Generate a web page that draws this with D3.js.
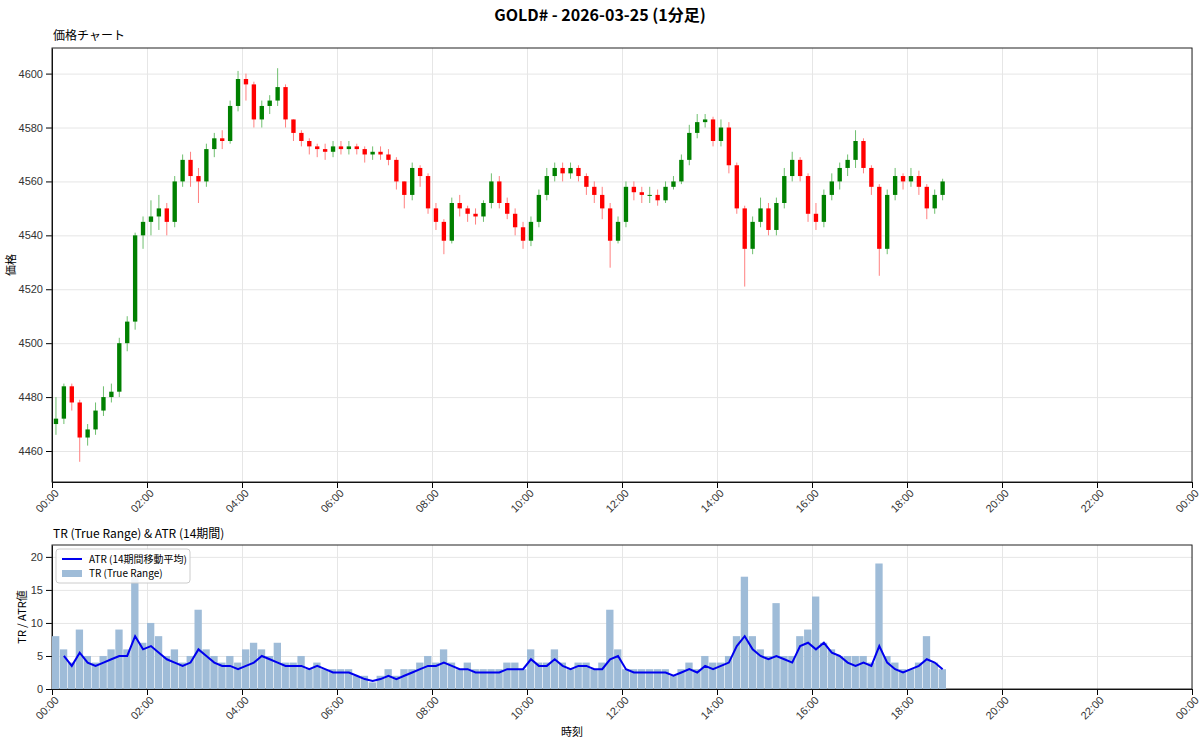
<!DOCTYPE html>
<html><head><meta charset="utf-8">
<script src="https://cdn.jsdelivr.net/npm/d3@7"></script>
<style>
body { margin: 0; background: #fff; font-family: "Noto Sans CJK JP", "DejaVu Sans", sans-serif; }
.grid line { stroke: #e6e6e6; }
.grid path { display: none; }
.axis text { font-size: 11px; fill: #333; }
</style></head>
<body><svg id="chart" width="1200" height="744"></svg>
<script>
var closes = [4472,4484,4478,4465,4468,4475,4480,4482,4500,4508,4540,4545,4547,4550,4545,4560,4568,4562,4560,4572,
  4576,4575,4588,4598,4596,4583,4588,4590,4595,4583,4578,4575,4573,4572,4571,4573,4572,4573,4572,4570,
  4571,4570,4568,4560,4555,4565,4562,4550,4545,4538,4552,4550,4548,4547,4552,4560,4552,4548,4543,4538,
  4545,4555,4562,4565,4563,4565,4562,4558,4555,4550,4538,4545,4558,4556,4555,4555,4553,4558,4560,4568,
  4578,4582,4583,4575,4580,4566,4550,4535,4545,4550,4542,4552,4562,4568,4562,4548,4545,4555,4560,4565,
  4568,4575,4565,4558,4535,4555,4562,4560,4562,4558,4550,4555,4560];
var highs = [4480,4485,4485,4479,4470,4478,4484,4485,4502,4510,4541,4547,4553,4555,4552,4562,4570,4571,4565,4574,
  4578,4579,4590,4601,4600,4597,4590,4592,4602,4596,4583,4579,4576,4574,4574,4575,4575,4575,4574,4573,
  4573,4573,4572,4569,4560,4567,4566,4563,4552,4546,4554,4555,4551,4550,4553,4563,4562,4554,4550,4545,
  4547,4557,4565,4567,4567,4567,4566,4563,4560,4558,4552,4547,4560,4560,4558,4558,4557,4560,4562,4570,
  4581,4585,4585,4584,4583,4582,4567,4551,4547,4554,4552,4554,4565,4571,4569,4563,4552,4557,4563,4567,
  4570,4579,4576,4566,4559,4557,4565,4563,4565,4564,4559,4557,4561];
var lows = [4466,4470,4475,4456,4462,4466,4473,4478,4480,4497,4505,4535,4540,4542,4540,4543,4558,4558,4552,4558,
  4569,4572,4574,4586,4590,4580,4580,4585,4588,4580,4575,4573,4570,4569,4568,4569,4570,4570,4570,4567,
  4568,4568,4566,4557,4550,4553,4558,4548,4542,4533,4537,4547,4545,4544,4545,4550,4550,4546,4540,4535,
  4536,4543,4553,4560,4560,4561,4560,4555,4552,4546,4528,4537,4543,4553,4552,4552,4551,4552,4557,4559,
  4566,4576,4580,4573,4573,4563,4548,4521,4533,4543,4540,4540,4550,4560,4560,4545,4542,4543,4553,4557,
  4562,4565,4563,4555,4525,4533,4553,4557,4558,4555,4546,4548,4553];
var trVals = [8,6,4,9,5,4,5,6,9,6,17,7,10,8,5,6,4,5,12,6,
  5,4,5,4,6,7,6,5,7,4,4,5,3,4,3,3,3,3,2,2,
  1,2,3,2,3,3,4,5,4,6,4,3,4,3,3,3,3,4,4,3,
  6,4,4,6,4,3,4,4,3,4,12,6,3,3,3,3,3,3,2,3,
  4,3,5,4,4,5,8,17,8,6,5,13,5,5,8,9,14,7,6,5,
  5,5,5,4,19,5,4,3,3,4,8,4,3];
var atrVals = [null,5,3.5,5.5,4,3.5,4,4.5,5,5,8,6,6.5,5.5,4.5,4,3.5,4,6,5,
  4,3.5,3.5,3,3.5,4,5,4.5,4,3.5,3.5,3.5,3,3.5,3,2.5,2.5,2.5,2,1.5,
  1.2,1.5,2,1.5,2,2.5,3,3.5,3.5,4,3.5,3,3,2.5,2.5,2.5,2.5,3,3,3,
  4.5,3.5,3.5,4.5,3.5,3,3.5,3.5,3,3,4.5,5,3,2.5,2.5,2.5,2.5,2.5,2,2.5,
  3,2.5,3.5,3,3.5,4,6.5,8,6,5,4.5,5,4.5,4,6.5,7,6,7,5.5,5,
  4,3.5,4,3.5,6.5,4,3,2.5,3,3.5,4.5,4,3];
var xTickHours = [0,2,4,6,8,10,12,14,16,18,20,22,24];
var priceTicks = [4460,4480,4500,4520,4540,4560,4580,4600];
var trTicks = [0,5,10,15,20];

var step = 10; // minutes per sample
var data = closes.map(function(c, i) {
    return {t: i * step, open: i === 0 ? 4470 : closes[i - 1], close: c, high: highs[i], low: lows[i], tr: trVals[i], atr: atrVals[i]};
});

var svg = d3.select('#chart');
var left = 52, right = 1192;
var top1 = 48, bot1 = 482, top2 = 545, bot2 = 689;

var x = d3.scaleLinear().domain([0, 1440]).range([left, right]);
var y1 = d3.scaleLinear().domain([4448.5, 4609.5]).range([bot1, top1]);
var y2 = d3.scaleLinear().domain([0, 21.8]).range([bot2, top2]);
var tickFmt = function(m) { var h = Math.floor(m / 60) % 24; return (h < 10 ? '0' : '') + h + ':00'; };
var tickVals = xTickHours.map(function(h) { return h * 60; });

svg.append('text').attr('x', 600).attr('y', 21).attr('text-anchor', 'middle')
    .attr('font-size', 16).attr('font-weight', 'bold').text('GOLD# - 2026-03-25 (1分足)');
svg.append('text').attr('x', left + 1).attr('y', 40).attr('font-size', 12).text('価格チャート');
svg.append('text').attr('x', left + 1).attr('y', 538).attr('font-size', 12).text('TR (True Range) & ATR (14期間)');

function panel(y, top, bot, ticks, fmt) {
    svg.append('g').attr('class', 'grid').attr('transform', `translate(0,${bot})`)
        .call(d3.axisBottom(x).tickValues(tickVals).tickSize(top - bot).tickFormat(''));
    svg.append('g').attr('class', 'grid').attr('transform', `translate(${left},0)`)
        .call(d3.axisLeft(y).tickValues(ticks).tickSize(left - right).tickFormat(''));
    var xa = svg.append('g').attr('class', 'axis').attr('transform', `translate(0,${bot})`)
        .call(d3.axisBottom(x).tickValues(tickVals).tickFormat(tickFmt).tickSizeOuter(0));
    xa.selectAll('text').attr('transform', 'rotate(-45)').attr('text-anchor', 'end').attr('dx', '-0.3em').attr('dy', '0.4em');
    svg.append('g').attr('class', 'axis').attr('transform', `translate(${left},0)`)
        .call(d3.axisLeft(y).tickValues(ticks).tickFormat(fmt).tickSizeOuter(0));
    svg.append('rect').attr('x', left).attr('y', top).attr('width', right - left).attr('height', bot - top)
        .attr('fill', 'none').attr('stroke', '#222');
}
panel(y1, top1, bot1, priceTicks, d3.format('d'));
panel(y2, top2, bot2, trTicks, d3.format('d'));

// Candles
var bw = (x(step) - x(0)) * 0.55;
var candles = svg.append('g').selectAll('g').data(data).enter().append('g');
candles.append('line')
    .attr('x1', function(d) { return x(d.t + step / 2); }).attr('x2', function(d) { return x(d.t + step / 2); })
    .attr('y1', function(d) { return y1(d.high); }).attr('y2', function(d) { return y1(d.low); })
    .attr('stroke', function(d) { return d.close >= d.open ? '#6fbf6f' : '#ff8080'; }).attr('stroke-width', 1);
candles.append('rect')
    .attr('x', function(d) { return x(d.t + step / 2) - bw / 2; }).attr('width', bw)
    .attr('y', function(d) { return y1(Math.max(d.open, d.close)); })
    .attr('height', function(d) { return Math.max(1, Math.abs(y1(d.open) - y1(d.close))); })
    .attr('fill', function(d) { return d.close >= d.open ? 'green' : 'red'; });

// TR bars
svg.append('g').selectAll('rect').data(data).enter().append('rect')
    .attr('x', function(d) { return x(d.t); }).attr('width', x(step) - x(0) - 0.6)
    .attr('y', function(d) { return y2(d.tr); }).attr('height', function(d) { return bot2 - y2(d.tr); })
    .attr('fill', '#9fbcd8');

// ATR line
svg.append('path').datum(data.filter(function(d) { return d.atr !== null; }))
    .attr('fill', 'none').attr('stroke', '#0000ee').attr('stroke-width', 2)
    .attr('d', d3.line().x(function(d) { return x(d.t + step / 2); }).y(function(d) { return y2(d.atr); }));

// Axis labels
svg.append('text').attr('transform', `translate(15,${(top1 + bot1) / 2}) rotate(-90)`)
    .attr('text-anchor', 'middle').attr('font-size', 11).text('価格');
svg.append('text').attr('transform', `translate(26,${(top2 + bot2) / 2}) rotate(-90)`)
    .attr('text-anchor', 'middle').attr('font-size', 11).text('TR / ATR値');
svg.append('text').attr('x', (left + right) / 2 - 50).attr('y', 736).attr('text-anchor', 'middle')
    .attr('font-size', 11).text('時刻');

// Legend
var lg = svg.append('g').attr('transform', `translate(${left + 4},${top2 + 4})`);
lg.append('rect').attr('width', 134).attr('height', 34).attr('rx', 3).attr('fill', '#fff')
    .attr('fill-opacity', 0.85).attr('stroke', '#ccc');
lg.append('line').attr('x1', 6).attr('x2', 26).attr('y1', 10).attr('y2', 10).attr('stroke', '#0000ee').attr('stroke-width', 2);
lg.append('text').attr('x', 33).attr('y', 14).attr('font-size', 10).text('ATR (14期間移動平均)');
lg.append('rect').attr('x', 6).attr('y', 21).attr('width', 20).attr('height', 7).attr('fill', '#9fbcd8');
lg.append('text').attr('x', 33).attr('y', 28).attr('font-size', 10).text('TR (True Range)');
</script></body></html>
